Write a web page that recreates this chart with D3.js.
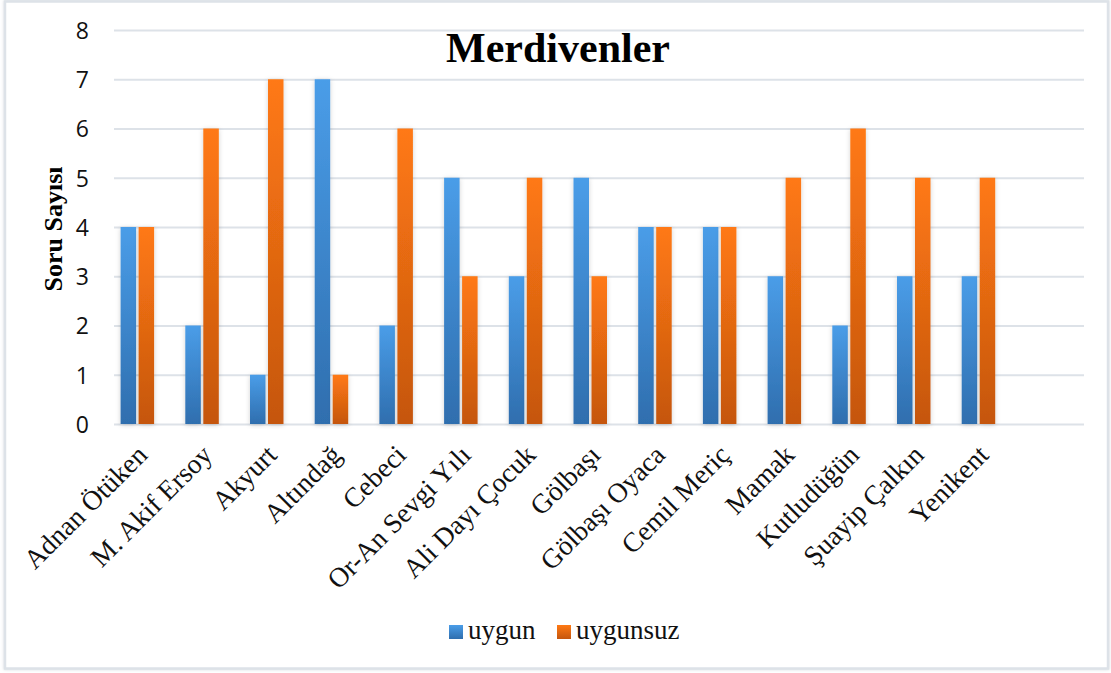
<!DOCTYPE html>
<html>
<head>
<meta charset="utf-8">
<script src="https://cdn.jsdelivr.net/npm/d3@7"></script>
<style>
  html, body { margin: 0; padding: 0; background: #fff; }
  svg { display: block; }
</style>
</head>
<body>
<svg id="chart" width="1111" height="673"></svg>
<script>
// Okul adları ve merdiven sorularına verilen yanıt sayıları
const categories = ["Adnan Ötüken", "M. Akif Ersoy", "Akyurt", "Altındağ", "Cebeci",
  "Or-An Sevgi Yılı", "Ali Dayı Çocuk", "Gölbaşı", "Gölbaşı Oyaca", "Cemil Meriç",
  "Mamak", "Kutludüğün", "Şuayip Çalkın", "Yenikent"];
const uygun    = [4, 2, 1, 7, 2, 5, 3, 5, 4, 4, 3, 2, 3, 3];
const uygunsuz = [4, 6, 7, 1, 6, 3, 5, 3, 4, 4, 5, 6, 5, 5];
const seriesNames = ["uygun", "uygunsuz"];
const yTicks = [0, 1, 2, 3, 4, 5, 6, 7, 8];

const svg = d3.select("#chart");
const defs = svg.append("defs");

// bar gradients
const grads = [
  { id: "gBlue", top: "#4a9de8", bottom: "#2f6eae" },
  { id: "gOrange", top: "#ff7914", bottom: "#c5560e" }
];
grads.forEach(g => {
  const lg = defs.append("linearGradient").attr("id", g.id)
    .attr("x1", 0).attr("y1", 0).attr("x2", 0).attr("y2", 1);
  lg.append("stop").attr("offset", "0%").attr("stop-color", g.top);
  lg.append("stop").attr("offset", "100%").attr("stop-color", g.bottom);
});
const sh = defs.append("filter").attr("id", "shadow")
  .attr("x", "-50%").attr("y", "-10%").attr("width", "200%").attr("height", "120%");
sh.append("feDropShadow").attr("dx", 0).attr("dy", 1).attr("stdDeviation", 2.5)
  .attr("flood-color", "#000").attr("flood-opacity", 0.18);
const fsh = defs.append("filter").attr("id", "frameShadow")
  .attr("x", "-2%").attr("y", "-2%").attr("width", "104%").attr("height", "104%");
fsh.append("feDropShadow").attr("dx", 0).attr("dy", 0).attr("stdDeviation", 1.5)
  .attr("flood-color", "#aab4c0").attr("flood-opacity", 0.5);

// outer chart frame
svg.append("rect").attr("x", 5).attr("y", 1.5).attr("width", 1103).attr("height", 667)
  .attr("fill", "#fff").attr("stroke", "#dde2e8").attr("stroke-width", 2.5)
  .attr("filter", "url(#frameShadow)");

const plot = { left: 114, right: 1084, top: 30, bottom: 424 };

const y = d3.scaleLinear().domain([0, 8]).range([plot.bottom, plot.top]);
// category axis keeps one trailing empty slot
const slots = categories.concat([""]);
const x = d3.scaleBand().domain(slots).range([105, 1075.5]).paddingInner(0).paddingOuter(0);
const barW = 15.5, barGap = 2.5;
const xs = d3.scaleBand().domain(seriesNames).range([0, barW * 2 + barGap]).paddingInner(barGap / (barW + barGap));

// grid lines
const yAxis = d3.axisLeft(y).tickValues(yTicks).tickSize(-(plot.right - plot.left)).tickPadding(25);
const gy = svg.append("g").attr("transform", `translate(${plot.left},0)`).call(yAxis);
gy.select(".domain").remove();
gy.selectAll(".tick line").attr("stroke", "#dde2e8").attr("stroke-width", 2);
gy.selectAll(".tick text")
  .attr("font-family", "'Open Sans', 'Liberation Sans', sans-serif")
  .attr("font-size", 23).attr("fill", "#111").attr("dy", "0.36em");

// bars
const data = categories.map((c, i) => ({ c, vals: [uygun[i], uygunsuz[i]] }));
const groups = svg.append("g").selectAll("g").data(data).join("g")
  .attr("transform", d => `translate(${x(d.c) + (x.bandwidth() - (barW * 2 + barGap)) / 2},0)`);
groups.selectAll("rect").data(d => d.vals.map((v, k) => ({ v, k })))
  .join("rect")
  .attr("x", d => xs(seriesNames[d.k]))
  .attr("width", xs.bandwidth())
  .attr("y", d => y(d.v))
  .attr("height", d => y(0) - y(d.v))
  .attr("fill", d => d.k === 0 ? "url(#gBlue)" : "url(#gOrange)")
  .attr("filter", "url(#shadow)");

// x axis labels
const gx = svg.append("g").attr("transform", `translate(0,${plot.bottom})`);
gx.selectAll("text").data(categories).join("text")
  .attr("transform", d => `translate(${x(d) + x.bandwidth() / 2 - 2},${19}) rotate(-45)`)
  .attr("text-anchor", "end")
  .attr("dy", "0.7em")
  .attr("font-family", "'Liberation Serif', 'Times New Roman', serif")
  .attr("font-size", 27.5).attr("fill", "#111")
  .text(d => d);

// title
svg.append("text").attr("x", 558).attr("y", 62).attr("text-anchor", "middle")
  .attr("font-family", "'Liberation Serif', 'Times New Roman', serif")
  .attr("font-weight", "bold").attr("font-size", 42).attr("fill", "#000")
  .text("Merdivenler");

// y axis title
svg.append("text").attr("transform", "translate(62,229) rotate(-90)")
  .attr("text-anchor", "middle")
  .attr("font-family", "'Liberation Serif', 'Times New Roman', serif")
  .attr("font-weight", "bold").attr("font-size", 26).attr("fill", "#000")
  .text("Soru Sayısı");

// legend
const legend = svg.append("g").attr("transform", "translate(449,625)");
const legX = [0, 108];
seriesNames.forEach((s, k) => {
  const g = legend.append("g").attr("transform", `translate(${legX[k]},0)`);
  g.append("rect").attr("width", 14).attr("height", 14)
    .attr("fill", k === 0 ? "url(#gBlue)" : "url(#gOrange)");
  g.append("text").attr("x", 19).attr("y", 14)
    .attr("font-family", "'Liberation Serif', 'Times New Roman', serif")
    .attr("font-size", 27).attr("fill", "#111").text(s);
});
</script>
</body>
</html>
